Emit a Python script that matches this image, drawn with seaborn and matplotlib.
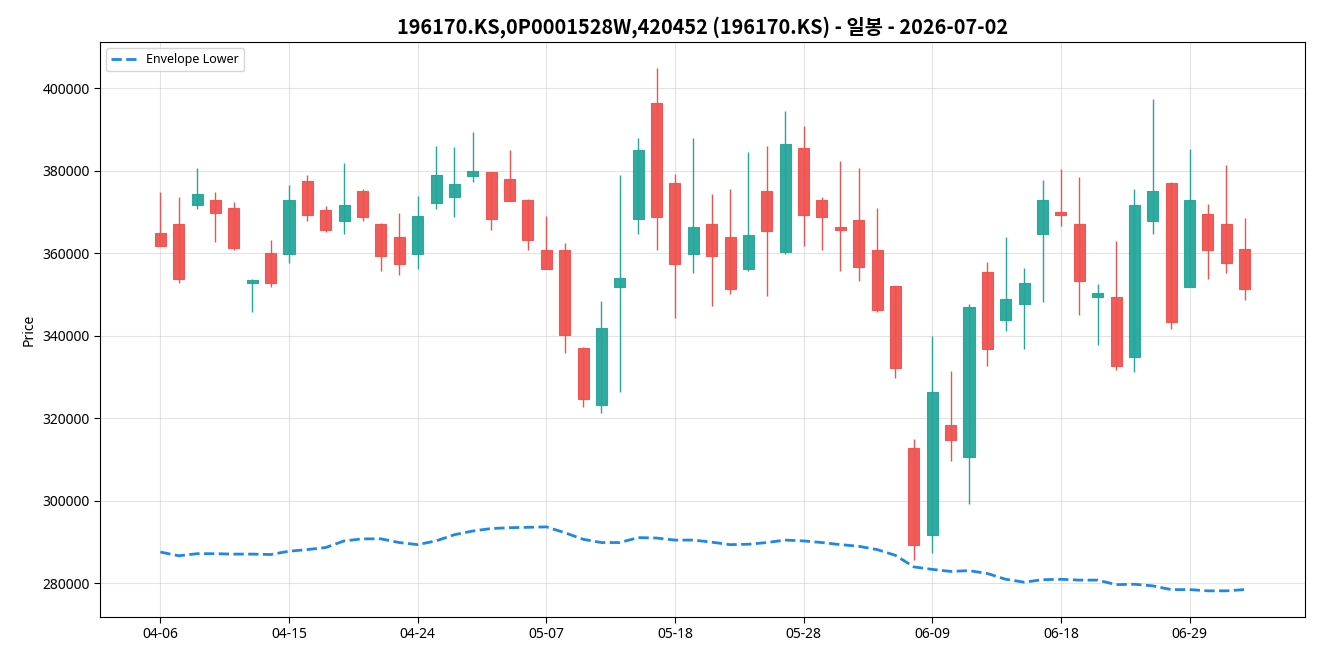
import matplotlib

matplotlib.use("Agg")

import matplotlib.pyplot as plt  # noqa: E402
import numpy as np  # noqa: E402
import pandas as pd  # noqa: E402
import seaborn as sns  # noqa: E402

TITLE = "196170.KS,0P0001528W,420452 (196170.KS) - 일봉 - 2026-07-02"

dates = [
    "04-06", "04-07", "04-08", "04-09", "04-10", "04-13", "04-14", "04-15", "04-16", "04-17",
    "04-20", "04-21", "04-22", "04-23", "04-24", "04-27", "04-28", "04-29", "04-30", "05-04",
    "05-06", "05-07", "05-08", "05-11", "05-12", "05-13", "05-14", "05-15", "05-18", "05-19",
    "05-20", "05-21", "05-22", "05-26", "05-27", "05-28", "05-29", "06-01", "06-02", "06-04",
    "06-05", "06-08", "06-09", "06-10", "06-11", "06-12", "06-15", "06-16", "06-17", "06-18",
    "06-19", "06-22", "06-23", "06-24", "06-25", "06-26", "06-29", "06-30", "07-01", "07-02",
]

opens = [
    365000, 367000, 371800, 373000, 371100, 352900, 360200, 359900, 377600, 370600,
    367900, 375000, 367000, 364000, 359900, 372300, 373700, 378800, 379600, 378100,
    373000, 360700, 360700, 337100, 323300, 351900, 368400, 396500, 377100, 359900,
    367000, 364000, 356300, 375000, 360400, 385600, 373000, 366500, 368200, 360700,
    352200, 312700, 291800, 318500, 310700, 355600, 343900, 347800, 364800, 370100,
    367000, 349300, 349500, 334800, 367900, 377100, 351900, 369600, 367000, 361100,
]
highs = [
    374800, 373600, 380800, 374800, 372400, 353900, 363300, 376500, 378900, 371500,
    381800, 375500, 367400, 369900, 373800, 385900, 385700, 389300, 379600, 385000,
    373100, 369000, 362400, 337200, 348400, 378900, 387900, 404900, 379300, 387900,
    374300, 375500, 384500, 385900, 394400, 390800, 373700, 382300, 380800, 370900,
    352200, 314900, 339900, 331400, 347800, 357800, 363900, 356400, 377900, 380400,
    378500, 352500, 362900, 375500, 397300, 377400, 385400, 371900, 381300, 368500,
]
lows = [
    361900, 352800, 370700, 362700, 360900, 345700, 351800, 357600, 367800, 365200,
    364700, 367800, 355700, 354700, 356200, 370700, 368800, 377300, 365600, 372600,
    360800, 356200, 335800, 322700, 321300, 326500, 364700, 360800, 344300, 355200,
    347200, 350100, 355700, 349600, 359900, 361800, 360800, 355700, 353300, 345800,
    329800, 285700, 287300, 309700, 299200, 332700, 341200, 336700, 348200, 366600,
    345000, 337800, 331700, 331200, 364700, 341600, 351900, 353800, 355200, 348700,
]
closes = [
    361900, 353800, 374500, 369900, 361400, 353600, 352900, 373000, 369400, 365700,
    371600, 368900, 359400, 357300, 369100, 379100, 376700, 380000, 368400, 372800,
    363300, 356300, 340300, 324800, 342000, 354100, 385100, 368900, 357300, 366500,
    359400, 351400, 364500, 365300, 386600, 369400, 368900, 365700, 356800, 346300,
    332300, 289400, 326500, 314800, 347100, 336900, 349000, 352700, 373000, 369400,
    353400, 350500, 332800, 371600, 375000, 343400, 373000, 360900, 357700, 351400,
]
envelope_lower = [
    287600, 286700, 287200, 287200, 287100, 287100, 287000, 287800, 288200, 288700,
    290300, 290800, 290800, 289900, 289400, 290300, 291800, 292700, 293300, 293500,
    293600, 293700, 292300, 290700, 289900, 289900, 291100, 291000, 290500, 290500,
    290000, 289400, 289500, 289900, 290500, 290300, 289900, 289400, 289000, 288200,
    286800, 284000, 283400, 282900, 283100, 282400, 281000, 280300, 280900, 281000,
    280800, 280800, 279700, 279800, 279400, 278500, 278500, 278200, 278200, 278500,
]

UP_COLOR = "#26a69a"
DOWN_COLOR = "#ef5350"
ENV_COLOR = "#1e88e5"

df = pd.DataFrame(
    {"date": dates, "open": opens, "high": highs, "low": lows, "close": closes,
     "envelope_lower": envelope_lower}
)
df["idx"] = np.arange(len(df))
df["color"] = np.where(df["close"] >= df["open"], UP_COLOR, DOWN_COLOR)
df["body_low"] = df[["open", "close"]].min(axis=1)
df["body_h"] = (df["close"] - df["open"]).abs()

sns.set_style("white", rc={
    "text.color": "black",
    "axes.labelcolor": "black",
    "xtick.color": "black",
    "ytick.color": "black",
    "axes.edgecolor": "black",
})
# Latin glyphs from Noto Sans, Hangul falls through to the CJK family
plt.rcParams["font.family"] = ["Noto Sans", "Noto Sans CJK KR", "DejaVu Sans"]
plt.rcParams["axes.unicode_minus"] = False

fig, ax = plt.subplots(figsize=(13.2, 6.6), dpi=100)
fig.subplots_adjust(left=0.0758, right=0.9886, top=0.9364, bottom=0.0652)

ax.vlines(df["idx"], df["low"], df["high"], colors=df["color"], linewidth=1, zorder=2)
ax.bar(
    df["idx"], df["body_h"], bottom=df["body_low"], width=0.6,
    color=df["color"], edgecolor=df["color"], linewidth=0.8, alpha=0.95, zorder=3,
)
sns.lineplot(
    data=df, x="idx", y="envelope_lower", ax=ax, color=ENV_COLOR,
    linestyle="--", linewidth=2, label="Envelope Lower", zorder=4,
)

tick_pos = df["idx"][::7]
ax.set_xticks(tick_pos)
ax.set_xticklabels(df["date"][::7])
ax.ticklabel_format(axis="y", style="plain", useOffset=False)
ax.grid(True, color="#cccccc", alpha=0.55, linewidth=0.8)
ax.set_axisbelow(True)
for spine in ax.spines.values():
    spine.set_color("black")
    spine.set_linewidth(0.8)
ax.tick_params(axis="both", which="both", direction="out", length=4, width=0.8,
               labelsize=10, bottom=True, left=True)

ax.set_xlabel("")
ax.set_ylabel("Price", fontsize=10)
ax.set_title(TITLE, fontsize=14.3, fontweight="bold",
             family=["Noto Sans CJK KR", "DejaVu Sans"])
ax.legend(loc="upper left", fontsize=9, frameon=True)

fig.savefig("out.png", dpi=100, facecolor="white")
plt.close(fig)
